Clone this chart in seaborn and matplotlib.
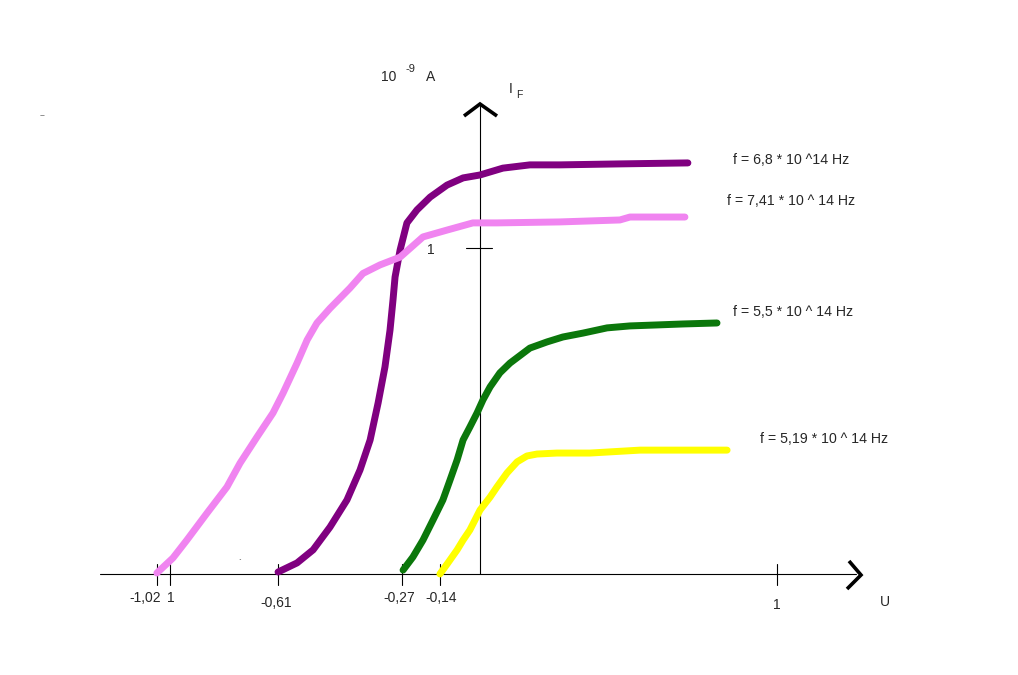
import numpy as np
import pandas as pd
import matplotlib
matplotlib.use("Agg")
import matplotlib.pyplot as plt
import seaborn as sns

# curves (U in V, I_F in 10^-9 A)
labels = ["f = 6,8 * 10 ^14 Hz", "f = 7,41 * 10 ^ 14 Hz",
          "f = 5,5 * 10 ^ 14 Hz", "f = 5,19 * 10 ^ 14 Hz"]

u_68 = [-0.680, -0.616, -0.562, -0.505, -0.448, -0.404, -0.370, -0.343, -0.320,
        -0.303, -0.293, -0.286, -0.269, -0.246, -0.212, -0.168, -0.111, -0.057,
        0.000, 0.077, 0.168, 0.269, 0.471, 0.700]
i_68 = [0.006, 0.034, 0.074, 0.144, 0.227, 0.319, 0.411, 0.525, 0.635,
        0.748, 0.840, 0.911, 0.994, 1.077, 1.117, 1.156, 1.193, 1.215,
        1.224, 1.245, 1.255, 1.255, 1.258, 1.261]

u_741 = [-1.088, -1.034, -0.987, -0.919, -0.852, -0.808, -0.751, -0.697, -0.663,
         -0.616, -0.582, -0.549, -0.505, -0.438, -0.394, -0.337, -0.269, -0.192,
         -0.111, -0.024, 0.057, 0.269, 0.471, 0.505, 0.690]
i_741 = [0.003, 0.049, 0.104, 0.187, 0.267, 0.340, 0.420, 0.494, 0.555,
         0.647, 0.718, 0.770, 0.815, 0.877, 0.922, 0.948, 0.972, 1.034,
         1.055, 1.077, 1.077, 1.080, 1.086, 1.095, 1.095]

u_55 = [-0.259, -0.226, -0.192, -0.158, -0.125, -0.101, -0.077, -0.057, -0.034,
        -0.010, 0.010, 0.034, 0.067, 0.101, 0.168, 0.226, 0.279, 0.347, 0.428,
        0.505, 0.596, 0.684, 0.798]
i_55 = [0.012, 0.052, 0.104, 0.166, 0.227, 0.288, 0.350, 0.411, 0.451,
        0.494, 0.534, 0.574, 0.617, 0.647, 0.693, 0.712, 0.727, 0.739, 0.755,
        0.761, 0.764, 0.767, 0.770]

u_519 = [-0.135, -0.108, -0.077, -0.057, -0.034, 0.000, 0.034, 0.057, 0.091,
         0.125, 0.158, 0.192, 0.259, 0.370, 0.539, 0.832]
i_519 = [0.000, 0.034, 0.074, 0.104, 0.135, 0.196, 0.236, 0.267, 0.310,
         0.344, 0.362, 0.368, 0.371, 0.371, 0.380, 0.380]

x_ticks = [-1.088, -1.044, -0.680, -0.263, -0.135, 1.0]
x_tick_labels = ["-1,02", "1", "-0,61", "-0,27", "-0,14", "1"]
y_ticks = [1.0]
y_tick_labels = ["1"]

colors = ["#800080", "#f084f0", "#0b770b", "#ffff00"]

W, H = 1018, 675
OX, OY = 480, 574      # origin in pixels
SX, SY = 297, 326      # pixels per unit

def fx(px):
    return (px - OX) / SX

def fy(py):
    return (OY - py) / SY

def fig_xy(px, py):
    return px / W, 1 - py / H

####################################################################################

frames = []
for lab, u, i in zip(labels, [u_68, u_741, u_55, u_519], [i_68, i_741, i_55, i_519]):
    frames.append(pd.DataFrame({"U": u, "I": i, "curve": lab}))
data = pd.concat(frames, ignore_index=True)

sns.set_style("white")
plt.rcParams["font.family"] = ["Liberation Sans", "DejaVu Sans"]

fig = plt.figure(figsize=(W / 100, H / 100), dpi=100)
ax = fig.add_axes([0, 0, 1, 1])
ax.set_xlim(fx(0), fx(W))
ax.set_ylim(fy(H), fy(0))
ax.axis("off")

# axes lines and arrow heads
ax.plot([fx(100), fx(856)], [0, 0], color="black", lw=0.8)
ax.plot([0, 0], [0, fy(106)], color="black", lw=0.8)
ax.plot([fx(849), fx(861), fx(847)], [fy(561), fy(575), fy(589)],
        color="black", lw=2.6, solid_capstyle="butt", solid_joinstyle="miter")
ax.plot([fx(464), fx(480), fx(497)], [fy(116), fy(104), fy(116)],
        color="black", lw=2.6, solid_capstyle="butt", solid_joinstyle="miter")

# ticks
for t in x_ticks:
    ax.plot([t, t], [fy(564), fy(585)], color="black", lw=0.8)
for t in y_ticks:
    ax.plot([fx(466), fx(492)], [t, t], color="black", lw=0.8)

sns.lineplot(data=data, x="U", y="I", hue="curve", palette=colors,
             hue_order=labels, estimator=None, sort=False, legend=False,
             linewidth=5, solid_capstyle="round", solid_joinstyle="round", ax=ax)

# tick labels (hand placed like the drawing)
label_pos = [(145, 598), (171, 598), (276, 603), (399, 598), (441, 598), (777, 605)]
for (px, py), lab in zip(label_pos, x_tick_labels):
    ax.text(*fig_xy(px, py), lab, transform=fig.transFigure, ha="center",
            va="center", fontsize=10)
ax.text(*fig_xy(431, 250), y_tick_labels[0], transform=fig.transFigure,
        ha="center", va="center", fontsize=10)

# curve labels
label_xy = [(733, 160), (727, 201), (733, 312), (760, 439)]
for (px, py), lab in zip(label_xy, labels):
    ax.text(*fig_xy(px, py), lab, transform=fig.transFigure, ha="left",
            va="center", fontsize=10.2)

# axis names
ax.text(*fig_xy(885, 602), "U", transform=fig.transFigure, ha="center",
        va="center", fontsize=10)
ax.text(*fig_xy(509, 89), "I", transform=fig.transFigure, ha="left",
        va="center", fontsize=10)
ax.text(*fig_xy(516, 95), "F", transform=fig.transFigure, ha="left",
        va="center", fontsize=7.5)
ax.text(*fig_xy(381, 77), "10", transform=fig.transFigure, ha="left",
        va="center", fontsize=10)
ax.text(*fig_xy(406, 69), "-9", transform=fig.transFigure, ha="left",
        va="center", fontsize=8)
ax.text(*fig_xy(426, 77), "A", transform=fig.transFigure, ha="left",
        va="center", fontsize=10)

# stray marks in the drawing
ax.text(*fig_xy(42, 117), "~", transform=fig.transFigure, ha="center",
        va="center", fontsize=6)
ax.text(*fig_xy(240, 563), "`", transform=fig.transFigure, ha="center",
        va="center", fontsize=6)

fig.savefig("out.png", dpi=100, facecolor="white")
